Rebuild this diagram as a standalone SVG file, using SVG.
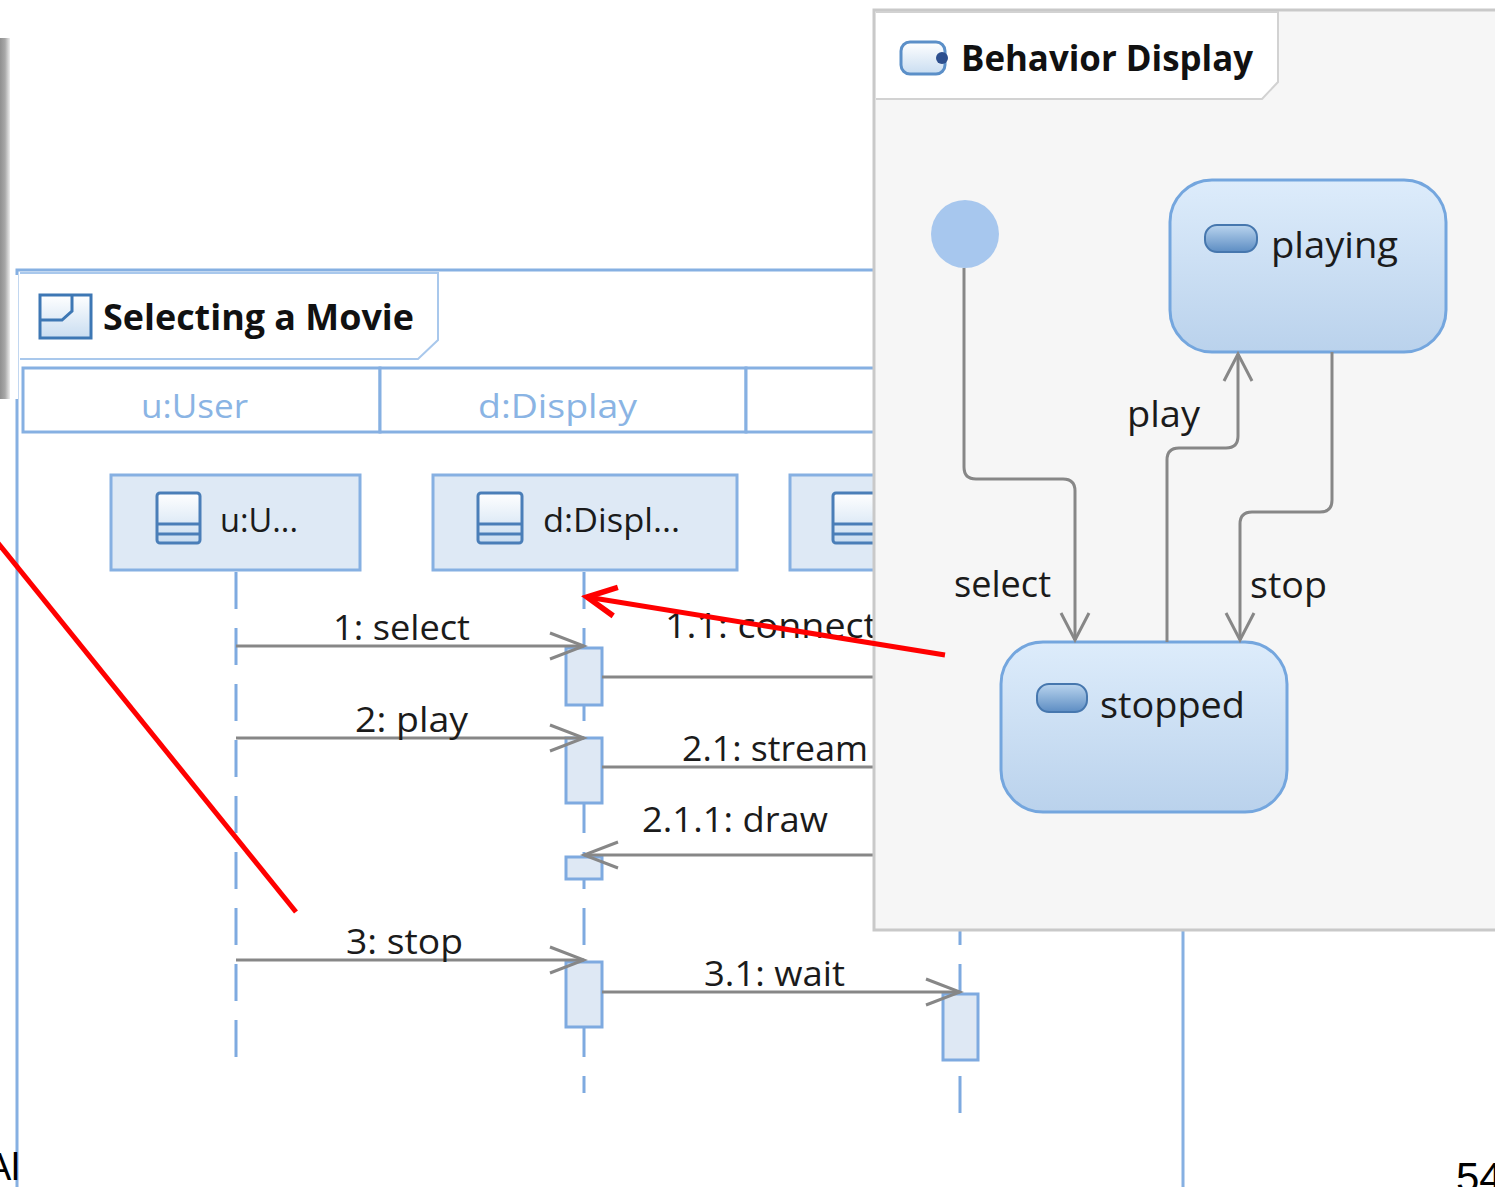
<svg xmlns="http://www.w3.org/2000/svg" width="1495" height="1187" viewBox="0 0 1495 1187">
<defs>
<style>
.frame{fill:none;stroke:#86B0E2;stroke-width:3}
.cell{fill:#fff;stroke:#86B0E2;stroke-width:3}
.lbox{fill:#DEE9F5;stroke:#86B0E2;stroke-width:3}
.act{fill:#DEE8F4;stroke:#7EAAE0;stroke-width:3}
.life{stroke:#7EAAE0;stroke-width:3;stroke-dasharray:37 19;fill:none}
.msg{stroke:#878787;stroke-width:3;fill:none}
.tr{stroke:#878787;stroke-width:3;fill:none}
.t{font-family:"Open Sans","Noto Sans","Liberation Sans",sans-serif;fill:#1b1b1b}
.tb{font-family:"Open Sans","Noto Sans","Liberation Sans",sans-serif;font-weight:700;fill:#111}
.hdr{font-family:"Open Sans","Noto Sans","Liberation Sans",sans-serif;fill:#8AB4E4}
.state{fill:url(#stG);stroke:#74A6DE;stroke-width:3}
.red{stroke:#FF0000;stroke-width:5;fill:none}
</style>
<linearGradient id="icG" x1="0" y1="0" x2="0" y2="1"><stop offset="0" stop-color="#FFFFFF"/><stop offset="1" stop-color="#C9DDF1"/></linearGradient>
<linearGradient id="stG" x1="0" y1="0" x2="0" y2="1"><stop offset="0" stop-color="#DDECFB"/><stop offset="1" stop-color="#BAD2EC"/></linearGradient>
<linearGradient id="pillG" x1="0" y1="0" x2="0" y2="1"><stop offset="0" stop-color="#B9D4EE"/><stop offset="1" stop-color="#5D8DC3"/></linearGradient>
<linearGradient id="shG" x1="0" y1="0" x2="1" y2="0"><stop offset="0" stop-color="#8F8F8F"/><stop offset="0.5" stop-color="#A8A8A8"/><stop offset="1" stop-color="#EDEDED"/></linearGradient>
<marker id="arrS" markerUnits="userSpaceOnUse" markerWidth="40" markerHeight="40" viewBox="-36 -18 40 36" refX="0" refY="0" orient="auto"><path d="M-34,-13 L0,0 L-34,13" fill="none" stroke="#878787" stroke-width="3"/></marker>
<marker id="arrT" markerUnits="userSpaceOnUse" markerWidth="36" markerHeight="36" viewBox="-30 -18 34 36" refX="0" refY="0" orient="auto"><path d="M-27,-14 L0,0 L-27,14" fill="none" stroke="#878787" stroke-width="3"/></marker>
<marker id="arrR" markerUnits="userSpaceOnUse" markerWidth="40" markerHeight="40" viewBox="-30 -18 34 36" refX="0" refY="0" orient="auto"><path d="M-26,-13 L0,0 L-26,13" fill="none" stroke="#FF0000" stroke-width="5"/></marker>
</defs>
<rect width="1495" height="1187" fill="#fff"/>

<g id="sequence-frame">
<path class="frame" d="M17,1190 V270 H880 M1183,925 V1190"/>
<path d="M20,273 H438 V340 L418,359 H20" fill="#fff" stroke="#A9C8EC" stroke-width="2"/>
<rect x="40" y="295" width="51" height="43" fill="url(#icG)" stroke="#3D77B4" stroke-width="3"/>
<path d="M40,320 H62 L72,311 V295" fill="none" stroke="#3D77B4" stroke-width="3"/>
<text class="tb" x="103" y="330" font-size="36" textLength="311" lengthAdjust="spacingAndGlyphs">Selecting a Movie</text>
<rect class="cell" x="23" y="368" width="357" height="64"/>
<rect class="cell" x="380" y="368" width="366" height="64"/>
<rect class="cell" x="746" y="368" width="140" height="64"/>
<text class="hdr" x="141" y="418" font-size="33" textLength="107" lengthAdjust="spacingAndGlyphs">u:User</text>
<text class="hdr" x="478" y="418" font-size="33" textLength="159" lengthAdjust="spacingAndGlyphs">d:Display</text>
</g>

<g id="lifeline-u">
<line class="life" x1="236" y1="572" x2="236" y2="1058"/>
<rect class="lbox" x="111" y="475" width="249" height="95"/>
<rect x="157" y="493" width="43" height="50" rx="3" fill="url(#icG)" stroke="#4A7EB8" stroke-width="3"/>
<path d="M157,524 H200 M157,534 H200" stroke="#4A7EB8" stroke-width="3"/>
<text class="t" x="220" y="532" font-size="33" textLength="78" lengthAdjust="spacingAndGlyphs">u:U...</text>
</g>

<g id="lifeline-d">
<line class="life" x1="584" y1="572" x2="584" y2="1093"/>
<rect class="lbox" x="433" y="475" width="304" height="95"/>
<rect x="478" y="493" width="44" height="50" rx="3" fill="url(#icG)" stroke="#4A7EB8" stroke-width="3"/>
<path d="M478,524 H522 M478,534 H522" stroke="#4A7EB8" stroke-width="3"/>
<text class="t" x="543" y="532" font-size="33" textLength="137" lengthAdjust="spacingAndGlyphs">d:Displ...</text>
<rect class="act" x="566" y="648" width="36" height="57"/>
<rect class="act" x="566" y="738" width="36" height="65"/>
<rect class="act" x="566" y="857" width="36" height="22"/>
<rect class="act" x="566" y="962" width="36" height="65"/>
</g>

<g id="lifeline-3">
<line class="life" x1="960" y1="572" x2="960" y2="1113"/>
<rect class="lbox" x="790" y="475" width="200" height="95"/>
<rect x="833" y="493" width="44" height="50" rx="3" fill="url(#icG)" stroke="#4A7EB8" stroke-width="3"/>
<path d="M833,524 H877 M833,534 H877" stroke="#4A7EB8" stroke-width="3"/>
<rect class="act" x="943" y="994" width="35" height="66"/>
</g>

<g id="messages">
<line class="msg" x1="236" y1="646" x2="584" y2="646" marker-end="url(#arrS)"/>
<line class="msg" x1="602" y1="677" x2="880" y2="677"/>
<line class="msg" x1="236" y1="738" x2="584" y2="738" marker-end="url(#arrS)"/>
<line class="msg" x1="602" y1="767" x2="880" y2="767"/>
<line class="msg" x1="880" y1="855" x2="584" y2="855" marker-end="url(#arrS)"/>
<line class="msg" x1="236" y1="960" x2="584" y2="960" marker-end="url(#arrS)"/>
<line class="msg" x1="602" y1="992" x2="960" y2="992" marker-end="url(#arrS)"/>
<text class="t" x="333" y="640" font-size="34" textLength="137" lengthAdjust="spacingAndGlyphs">1: select</text>
<text class="t" x="665" y="638" font-size="34" textLength="212" lengthAdjust="spacingAndGlyphs">1.1: connect</text>
<text class="t" x="355" y="732" font-size="34" textLength="113" lengthAdjust="spacingAndGlyphs">2: play</text>
<text class="t" x="682" y="761" font-size="34" textLength="186" lengthAdjust="spacingAndGlyphs">2.1: stream</text>
<text class="t" x="642" y="832" font-size="34" textLength="186" lengthAdjust="spacingAndGlyphs">2.1.1: draw</text>
<text class="t" x="346" y="954" font-size="34" textLength="117" lengthAdjust="spacingAndGlyphs">3: stop</text>
<text class="t" x="704" y="986" font-size="34" textLength="141" lengthAdjust="spacingAndGlyphs">3.1: wait</text>
</g>

<g id="left-window">
<rect x="0" y="275" width="18" height="124" fill="#fff"/>
<rect x="0" y="38" width="10" height="361" fill="url(#shG)"/>
</g>

<g id="state-panel">
<rect x="874" y="10" width="640" height="920" fill="#F6F6F6" stroke="#C9C9C9" stroke-width="3"/>
<path d="M876,12 H1278 V82 L1262,99 H876" fill="#fff" stroke="#D2D2D2" stroke-width="2"/>
<rect x="901" y="42" width="44" height="32" rx="9" fill="url(#icG)" stroke="#5B8FC8" stroke-width="3"/>
<circle cx="942" cy="58" r="6" fill="#2D4F8E"/>
<text class="tb" x="961" y="71" font-size="36" textLength="292" lengthAdjust="spacingAndGlyphs">Behavior Display</text>
</g>

<g id="initial">
<circle cx="965" cy="234" r="34" fill="#A7C7EE"/>
</g>

<g id="state-playing">
<rect class="state" x="1170" y="180" width="276" height="172" rx="42"/>
<rect x="1205" y="225" width="52" height="27" rx="12" fill="url(#pillG)" stroke="#4677AE" stroke-width="2"/>
<text class="t" x="1271" y="258" font-size="37" textLength="127" lengthAdjust="spacingAndGlyphs">playing</text>
</g>

<g id="state-stopped">
<rect class="state" x="1001" y="642" width="286" height="170" rx="42"/>
<rect x="1037" y="684" width="50" height="28" rx="12" fill="url(#pillG)" stroke="#4677AE" stroke-width="2"/>
<text class="t" x="1100" y="718" font-size="37" textLength="145" lengthAdjust="spacingAndGlyphs">stopped</text>
</g>

<g id="transitions">
<path class="tr" d="M964,268 V467 Q964,479 976,479 H1063 Q1075,479 1075,491 V640" marker-end="url(#arrT)"/>
<path class="tr" d="M1167,642 V460 Q1167,448 1179,448 H1226 Q1238,448 1238,436 V354" marker-end="url(#arrT)"/>
<path class="tr" d="M1332,352 V500 Q1332,512 1320,512 H1252 Q1240,512 1240,524 V640" marker-end="url(#arrT)"/>
<text class="t" x="954" y="597" font-size="36" textLength="97" lengthAdjust="spacingAndGlyphs">select</text>
<text class="t" x="1127" y="427" font-size="36" textLength="73" lengthAdjust="spacingAndGlyphs">play</text>
<text class="t" x="1250" y="598" font-size="36" textLength="77" lengthAdjust="spacingAndGlyphs">stop</text>
</g>

<g id="annotations">
<line class="red" x1="945" y1="655" x2="587" y2="597" marker-end="url(#arrR)"/>
<line class="red" x1="-2" y1="543" x2="296" y2="912"/>
</g>

<g id="page-text">
<text x="-14" y="1180" font-family="Liberation Sans, Arial, sans-serif" font-size="38" fill="#000">Al</text>
<text x="1456" y="1192" font-family="Liberation Sans, Arial, sans-serif" font-size="42" fill="#000">54</text>
</g>
</svg>
